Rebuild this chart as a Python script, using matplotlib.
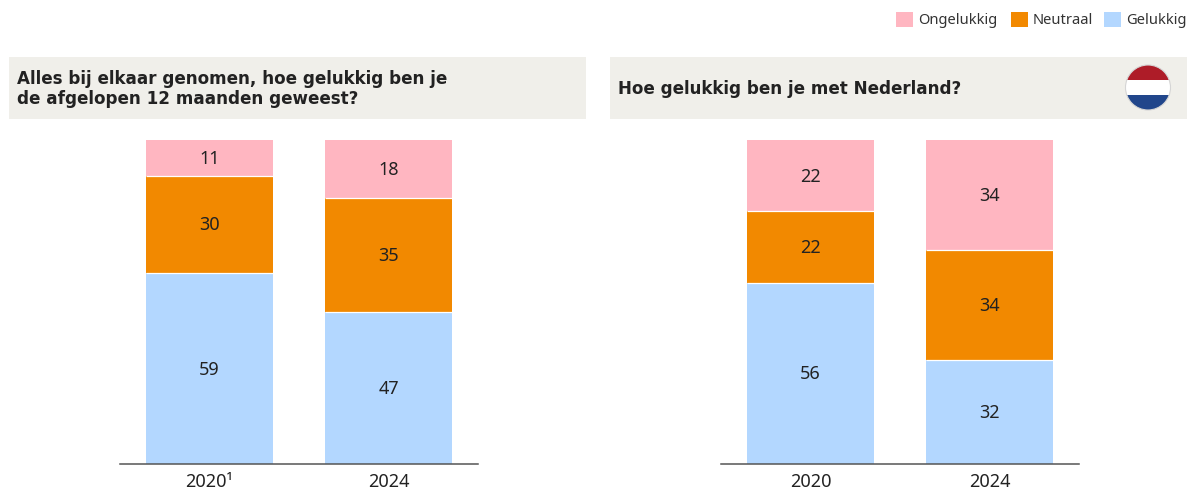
import matplotlib
matplotlib.use("Agg")
import matplotlib.pyplot as plt
from matplotlib.patches import Rectangle, Circle

plt.rcParams['font.family'] = ['Noto Sans', 'DejaVu Sans']

W, H = 1197, 490

years_left = ["2020¹", "2024"]
years_right = ["2020", "2024"]
gelukkig_left = [59, 47]
neutraal_left = [30, 35]
ongelukkig_left = [11, 18]
gelukkig_right = [56, 32]
neutraal_right = [22, 34]
ongelukkig_right = [22, 34]

title_left = "Alles bij elkaar genomen, hoe gelukkig ben je\nde afgelopen 12 maanden geweest?"
title_right = "Hoe gelukkig ben je met Nederland?"

C_BLUE = "#b3d7ff"
C_ORANGE = "#f28900"
C_PINK = "#ffb6c1"
C_BOX = "#f0efea"
C_TEXT = "#222222"
BAR_W = 0.71

fig = plt.figure(figsize=(W / 100, H / 100), dpi=100)


def px_axes(x0, y0, x1, y1):
    return fig.add_axes([x0 / W, 1 - y1 / H, (x1 - x0) / W, (y1 - y0) / H])


def stacked(ax, labels, low, mid, top):
    x = list(range(len(labels)))
    b3 = [a + b for a, b in zip(low, mid)]
    for vals, bottom, col in [(low, [0, 0], C_BLUE), (mid, low, C_ORANGE), (top, b3, C_PINK)]:
        ax.bar(x, vals, bottom=bottom, width=BAR_W, color=col, linewidth=0)
        for i in x:
            ax.annotate(str(vals[i]), (i, bottom[i] + vals[i] / 2), xytext=(0, -0.8),
                        textcoords="offset points", ha="center", va="center",
                        fontsize=13, color=C_TEXT)
    # thin white seams between the segments
    for i in x:
        ax.hlines([low[i], b3[i]], i - BAR_W / 2, i + BAR_W / 2, color="white", lw=0.9)
    ax.set_xlim(-0.5, 1.5)
    ax.set_ylim(0, 100)
    ax.set_xticks(x)
    ax.set_xticklabels(labels, fontsize=13, color=C_TEXT)
    ax.tick_params(axis="x", length=0, pad=6.5)
    ax.set_yticks([])
    for s in ["left", "right", "top"]:
        ax.spines[s].set_visible(False)
    ax.spines["bottom"].set_color("#555555")
    ax.spines["bottom"].set_linewidth(1.1)


ax1 = px_axes(120, 140, 478, 464)
stacked(ax1, years_left, gelukkig_left, neutraal_left, ongelukkig_left)
ax2 = px_axes(721, 140, 1079, 464)
stacked(ax2, years_right, gelukkig_right, neutraal_right, ongelukkig_right)

# title boxes, flag and legend are placed in pixels
bg = fig.add_axes([0, 0, 1, 1], zorder=-1)
bg.set_xlim(0, W)
bg.set_ylim(H, 0)
bg.axis("off")
bg.add_patch(Rectangle((9, 57), 577, 62, color=C_BOX, lw=0))
bg.add_patch(Rectangle((610, 57), 577, 62, color=C_BOX, lw=0))
bg.text(17, 89, title_left, fontsize=12.1, fontweight="bold", family="DejaVu Sans",
        color=C_TEXT, va="center", linespacing=1.1)
bg.text(618, 89, title_right, fontsize=12.1, fontweight="bold", family="DejaVu Sans",
        color=C_TEXT, va="center")

# flag
clip = Circle((1148, 87.5), 22.5, transform=bg.transData)
for y, c in [(65, "#ae1c28"), (80, "#ffffff"), (95.5, "#21468b")]:
    r = Rectangle((1125, y), 46, 15.5, color=c, lw=0)
    bg.add_patch(r)
    r.set_clip_path(clip)
bg.add_patch(Circle((1148, 87.5), 22.5, fill=False, ec="#d5d5d5", lw=0.8))

# legend
for x, col, lab in [(896, C_PINK, "Ongelukkig"), (1011, C_ORANGE, "Neutraal"), (1104, C_BLUE, "Gelukkig")]:
    bg.add_patch(Rectangle((x, 12), 16.5, 15, color=col, lw=0))
    bg.text(x + 22, 20, lab, fontsize=10.6, color="#333333", va="center")

fig.savefig("out.png", dpi=100)
